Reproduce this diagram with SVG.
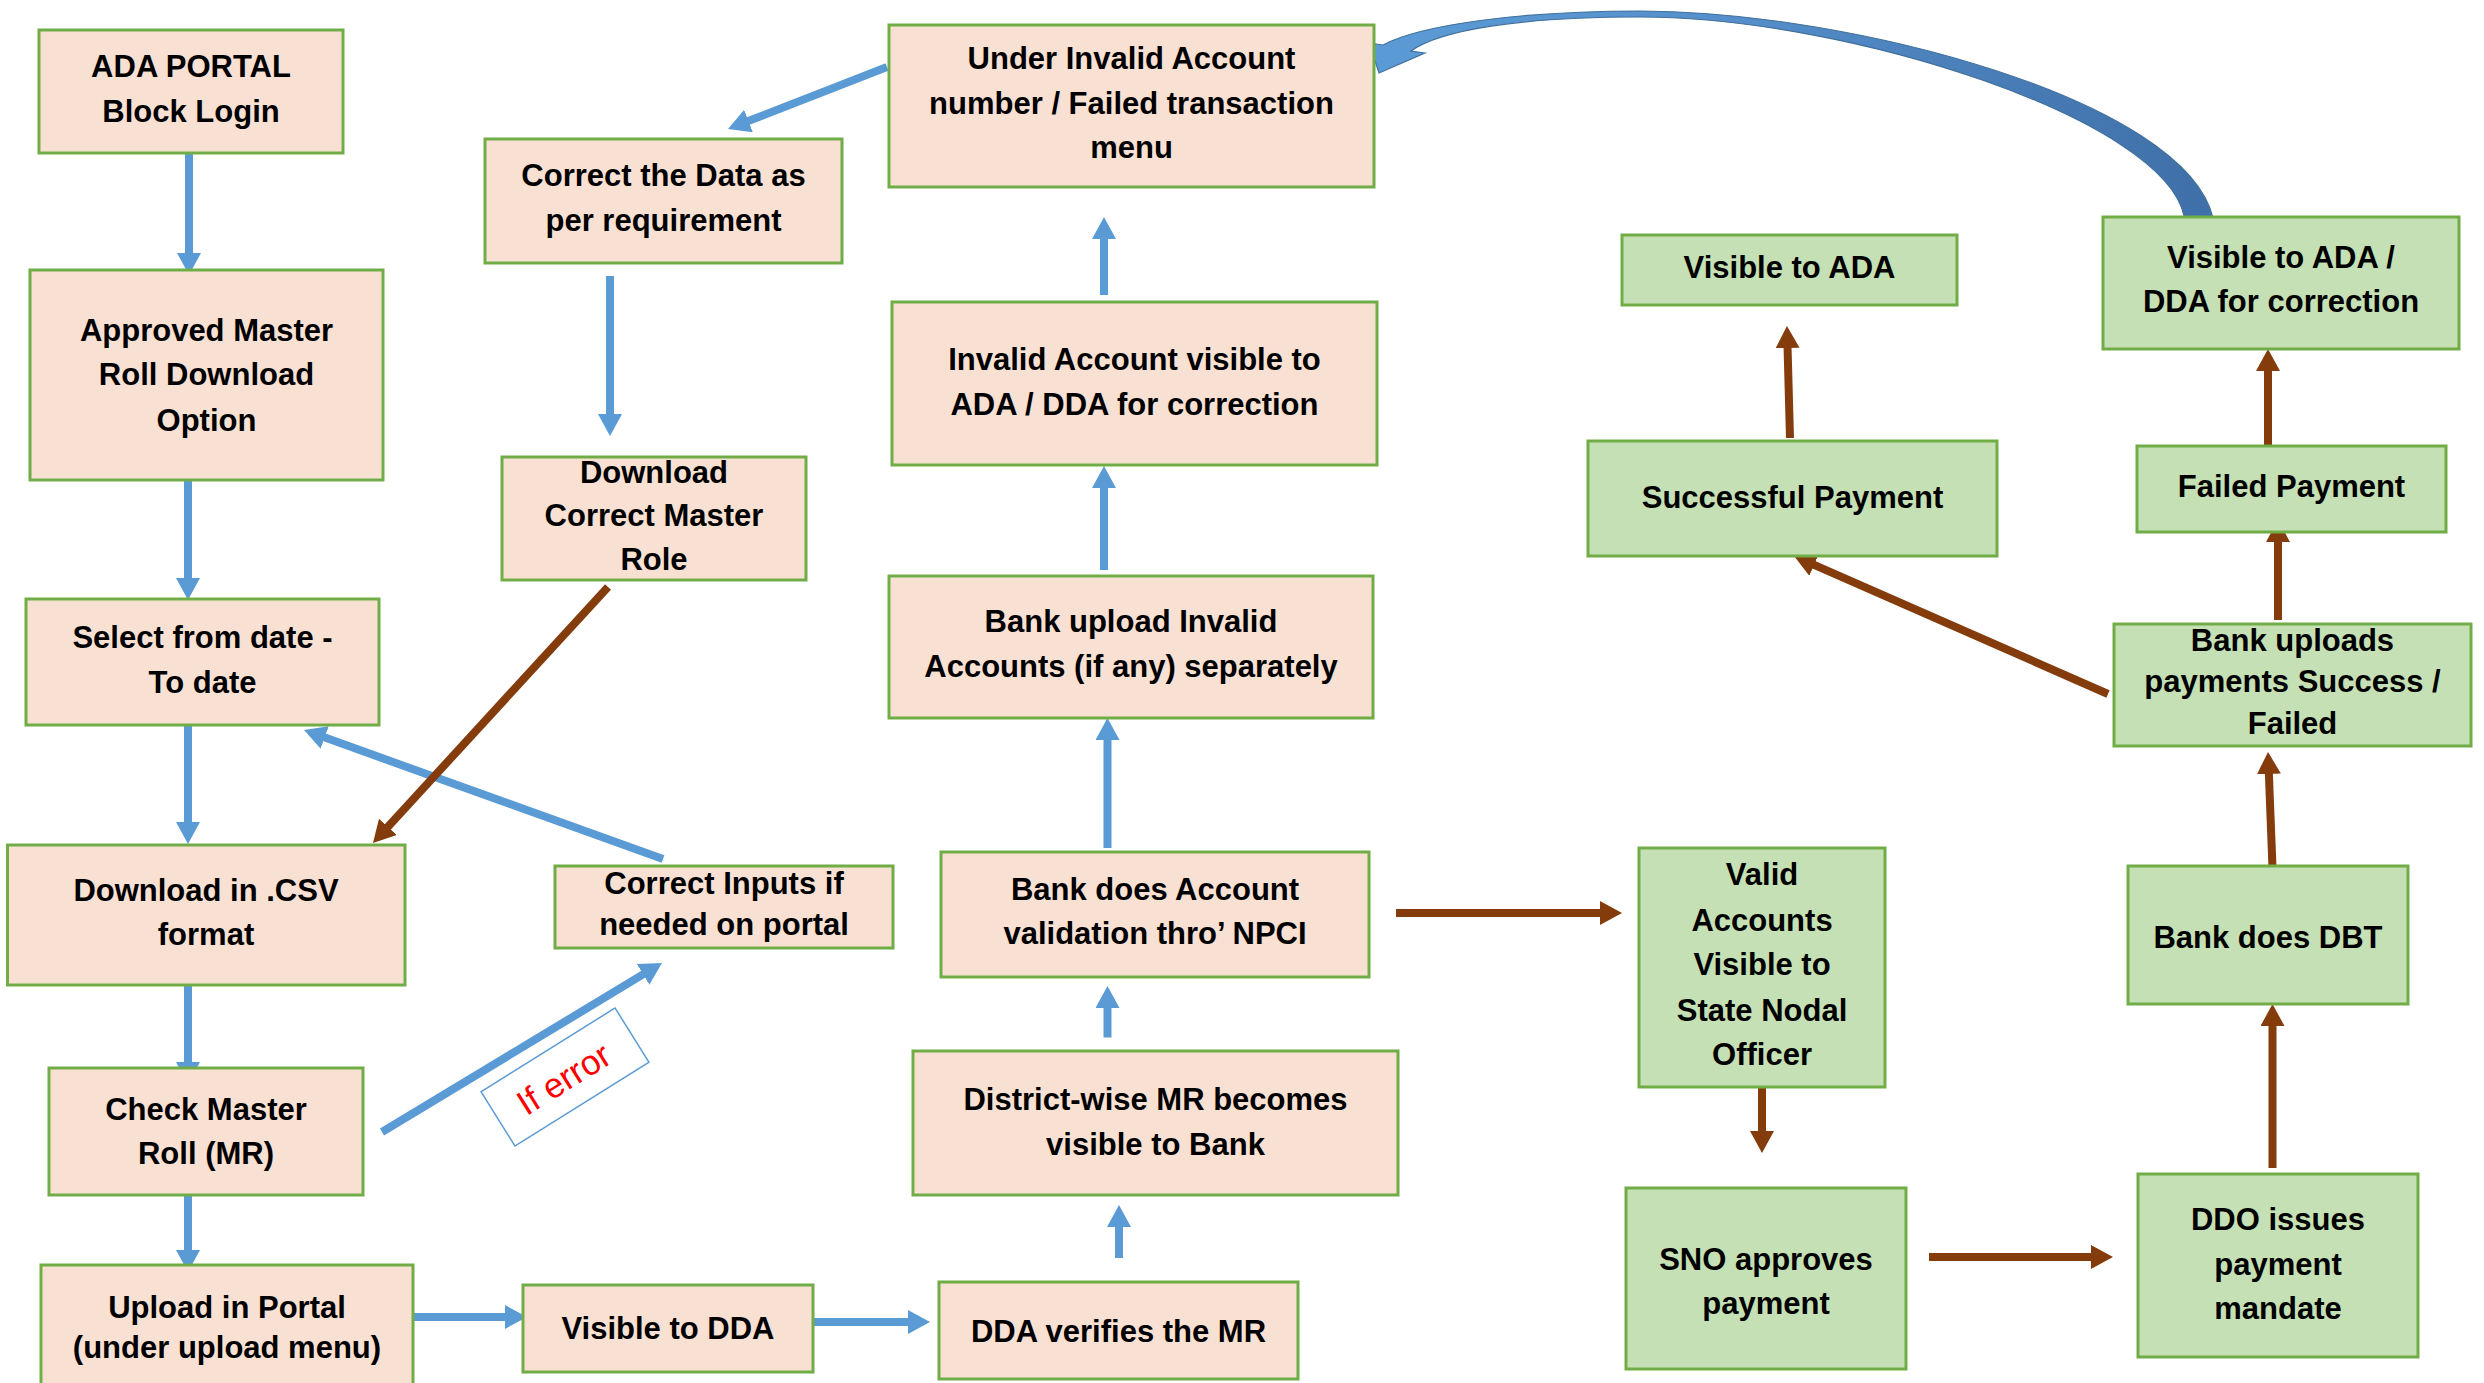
<svg xmlns="http://www.w3.org/2000/svg" width="2484" height="1383" viewBox="0 0 2484 1383">
<style>
.p{fill:#F8E1D3;stroke:#70AD47;stroke-width:3}
.g{fill:#C5E0B4;stroke:#70AD47;stroke-width:3}
.t{font-family:"Liberation Sans",Arial,sans-serif;font-weight:bold;font-size:31px;text-anchor:middle;fill:#000}
.cb{stroke:#5B9BD5;stroke-width:8;fill:none;marker-end:url(#hb)}
.cr{stroke:#843C0C;stroke-width:8;fill:none;marker-end:url(#hr)}
</style>
<defs>
<marker id="hb" markerUnits="userSpaceOnUse" viewBox="0 0 22 24" markerWidth="22" markerHeight="24" refX="10" refY="12" orient="auto"><path d="M0,0 L22,12 L0,24 Z" fill="#5B9BD5"/></marker>
<marker id="hr" markerUnits="userSpaceOnUse" viewBox="0 0 22 24" markerWidth="22" markerHeight="24" refX="10" refY="12" orient="auto"><path d="M0,0 L22,12 L0,24 Z" fill="#843C0C"/></marker>
<linearGradient id="cg" x1="0" y1="0" x2="1" y2="0"><stop offset="0" stop-color="#5B9BD5"/><stop offset="0.4" stop-color="#5690CC"/><stop offset="1" stop-color="#3F6FA8"/></linearGradient>
</defs>
<rect width="2484" height="1383" fill="#FFFFFF"/>
<g id="connectors">
<path class="cb" d="M189,153 L189,263"/>
<path class="cb" d="M188,480 L188,588"/>
<path class="cb" d="M188,725 L188,832"/>
<path class="cb" d="M188,978 L188,1072"/>
<path class="cb" d="M188,1195 L188,1260"/>
<path class="cb" d="M413,1317 L515,1317"/>
<path class="cb" d="M814,1322 L918,1322"/>
<path class="cb" d="M1119,1258 L1119,1217"/>
<path class="cb" d="M1107.5,1037.5 L1107.5,998"/>
<path class="cb" d="M1107.5,848 L1107.5,730"/>
<path class="cb" d="M1104,570 L1104,478"/>
<path class="cb" d="M1104,295 L1104,229"/>
<path class="cb" d="M887,67 L739.2,124.6"/>
<path class="cb" d="M610,276 L610,424"/>
<path class="cb" d="M663,859 L315.3,734.1"/>
<path class="cb" d="M382,1132 L651.7,969.2"/>
<path class="cr" d="M608,587 L381.1,834.2"/>
<path class="cr" d="M1396,913 L1610,913"/>
<path class="cr" d="M1762,1087 L1762,1141"/>
<path class="cr" d="M1929,1257 L2101,1257"/>
<path class="cr" d="M2272.5,1168 L2272.5,1016"/>
<path class="cr" d="M2272.5,868 L2268.5,764"/>
<path class="cr" d="M2278,620 L2278,532"/>
<path class="cr" d="M2268,448 L2268,361"/>
<path class="cr" d="M2108,694 L1805,560.8"/>
<path class="cr" d="M1790,438 L1787.3,338"/>
<path d="M1369,43 L1383,45 C1420,25 1520,11 1640,11 C1850,11 2185,100 2213,218 L2184,216 C2165,120 1850,17 1640,17 C1520,17 1440,30 1411,51 L1425,53 L1379,73 Z" fill="url(#cg)" stroke="#41719C" stroke-width="1.2"/>
</g>
<g id="if-error" transform="translate(565,1077) rotate(-32)">
<rect x="-79" y="-32" width="158" height="64" fill="#FFFFFF" stroke="#5B9BD5" stroke-width="1.5"/>
<text x="-2" y="13" font-family="Liberation Sans,Arial,sans-serif" font-size="35" fill="#FF0000" text-anchor="middle">If error</text>
</g>
<g id="n1"><rect class="p" x="39" y="30" width="304" height="123"/><text class="t" x="191" y="77">ADA PORTAL</text><text class="t" x="191" y="122">Block Login</text></g>
<g id="n2"><rect class="p" x="30" y="270" width="353" height="210"/><text class="t" x="206.5" y="341">Approved Master</text><text class="t" x="206.5" y="385">Roll Download</text><text class="t" x="206.5" y="431">Option</text></g>
<g id="n3"><rect class="p" x="26" y="599" width="353" height="126"/><text class="t" x="202.5" y="648">Select from date -</text><text class="t" x="202.5" y="693">To date</text></g>
<g id="n4"><rect class="p" x="7.5" y="845" width="397.5" height="140"/><text class="t" x="206" y="901">Download in .CSV</text><text class="t" x="206" y="945">format</text></g>
<g id="n5"><rect class="p" x="49" y="1068" width="314" height="127"/><text class="t" x="206" y="1120">Check Master</text><text class="t" x="206" y="1164">Roll (MR)</text></g>
<g id="n6"><rect class="p" x="41" y="1265" width="372" height="130"/><text class="t" x="227" y="1318">Upload in Portal</text><text class="t" x="227" y="1358">(under upload menu)</text></g>
<g id="n7"><rect class="p" x="523" y="1285" width="290" height="87"/><text class="t" x="668" y="1339">Visible to DDA</text></g>
<g id="n8"><rect class="p" x="939" y="1282" width="359" height="97"/><text class="t" x="1118.5" y="1342">DDA verifies the MR</text></g>
<g id="n9"><rect class="p" x="913" y="1051" width="485" height="144"/><text class="t" x="1155.5" y="1110">District-wise  MR becomes</text><text class="t" x="1155.5" y="1155">visible to Bank</text></g>
<g id="n10"><rect class="p" x="941" y="852" width="428" height="125"/><text class="t" x="1155" y="900">Bank does Account</text><text class="t" x="1155" y="944">validation thro’ NPCI</text></g>
<g id="n11"><rect class="p" x="889" y="576" width="484" height="142"/><text class="t" x="1131" y="632">Bank upload Invalid</text><text class="t" x="1131" y="677">Accounts (if any) separately</text></g>
<g id="n12"><rect class="p" x="892" y="302" width="485" height="163"/><text class="t" x="1134.5" y="370">Invalid Account visible to</text><text class="t" x="1134.5" y="415">ADA / DDA for correction</text></g>
<g id="n13"><rect class="p" x="889" y="25" width="485" height="162"/><text class="t" x="1131.5" y="69">Under Invalid Account</text><text class="t" x="1131.5" y="114">number / Failed transaction</text><text class="t" x="1131.5" y="158">menu</text></g>
<g id="n14"><rect class="p" x="485" y="139" width="357" height="124"/><text class="t" x="663.5" y="186">Correct the Data as</text><text class="t" x="663.5" y="231">per requirement</text></g>
<g id="n15"><rect class="p" x="502" y="457" width="304" height="123"/><text class="t" x="654" y="483">Download</text><text class="t" x="654" y="526">Correct Master</text><text class="t" x="654" y="570">Role</text></g>
<g id="n16"><rect class="p" x="555" y="866" width="338" height="82"/><text class="t" x="724" y="894">Correct Inputs if</text><text class="t" x="724" y="935">needed on portal</text></g>
<g id="n17"><rect class="g" x="1639" y="848" width="246" height="239"/><text class="t" x="1762" y="885">Valid</text><text class="t" x="1762" y="931">Accounts</text><text class="t" x="1762" y="975">Visible to</text><text class="t" x="1762" y="1021">State Nodal</text><text class="t" x="1762" y="1065">Officer</text></g>
<g id="n18"><rect class="g" x="1626" y="1188" width="280" height="181"/><text class="t" x="1766" y="1270">SNO approves</text><text class="t" x="1766" y="1314">payment</text></g>
<g id="n19"><rect class="g" x="2138" y="1174" width="280" height="183"/><text class="t" x="2278" y="1230">DDO issues</text><text class="t" x="2278" y="1275">payment</text><text class="t" x="2278" y="1319">mandate</text></g>
<g id="n20"><rect class="g" x="2128" y="866" width="280" height="138"/><text class="t" x="2268" y="948">Bank does DBT</text></g>
<g id="n21"><rect class="g" x="2114" y="624" width="357" height="122"/><text class="t" x="2292.5" y="651">Bank uploads</text><text class="t" x="2292.5" y="692">payments Success /</text><text class="t" x="2292.5" y="734">Failed</text></g>
<g id="n22"><rect class="g" x="2137" y="446" width="309" height="86"/><text class="t" x="2291.5" y="497">Failed Payment</text></g>
<g id="n23"><rect class="g" x="1588" y="441" width="409" height="115"/><text class="t" x="1792.5" y="508">Successful Payment</text></g>
<g id="n24"><rect class="g" x="1622" y="235" width="335" height="70"/><text class="t" x="1789.5" y="278">Visible to ADA</text></g>
<g id="n25"><rect class="g" x="2103" y="217" width="356" height="132"/><text class="t" x="2281" y="268">Visible to ADA /</text><text class="t" x="2281" y="312">DDA for correction</text></g>
</svg>
